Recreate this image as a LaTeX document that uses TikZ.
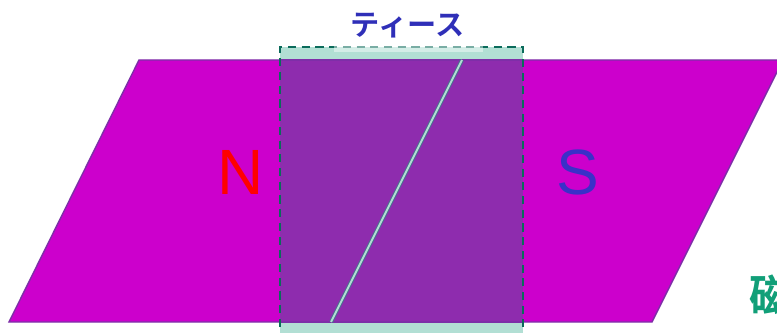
\documentclass[tikz,border=0pt]{standalone}
\usepackage{fontspec}
\setmainfont{Liberation Sans}
\newfontfamily\cjk{Noto Sans CJK JP}[BoldFont={Noto Sans CJK JP Bold}]
\definecolor{magnetcol}{HTML}{CC00CC}
\definecolor{edgecol}{HTML}{7E2FA8}
\definecolor{overlapcol}{HTML}{8E2CAE}
\definecolor{teethcol}{HTML}{B2DFD4}
\definecolor{dashcol}{HTML}{0B6B5B}
\definecolor{slitcol}{HTML}{4A6F8F}
\definecolor{titlecol}{HTML}{2F2FB8}
\definecolor{southcol}{HTML}{3A30C8}
\definecolor{fieldcol}{HTML}{119F78}
\begin{document}
\begin{tikzpicture}[
    x=0.01cm, y=-0.01cm,
    magnet/.style={fill=magnetcol, draw=edgecol, line width=0.4pt},
    teeth/.style={fill=teethcol},
    overlap/.style={fill=overlapcol},
    border/.style={dashcol, line width=0.6pt, dash pattern=on 2.3pt off 1.6pt},
    pole/.style={font=\fontsize{18.2}{20}\selectfont, inner sep=0pt},
]
\useasboundingbox (0,0) rectangle (777,334);

% Teeth behind the magnets
\coordinate (TL) at (280,47);
\coordinate (TR) at (523,47);
\coordinate (BL) at (280,327);
\coordinate (BR) at (523,327);
\fill[teeth] (TL) rectangle (523,333);

% Two magnets with the slit between them
\coordinate (A1) at (9,322);
\coordinate (A2) at (139,60);
\coordinate (G1) at (462,60);
\coordinate (G2) at (331,322);
\coordinate (G3) at (652,322);
\coordinate (G4) at (783,60);
\draw[magnet] (A1) -- (A2) -- (G1) -- (G2) -- cycle;
\draw[magnet] (G2) -- (G1) -- (G4) -- (G3) -- cycle;

% Overlap of teeth and magnets
\fill[overlap] (280,60) rectangle (523,322);
\draw[edgecol, line width=0.4pt] (280,60) -- (523,60) (280,322) -- (523,322);
\draw[slitcol, line width=1.1pt] (G1) -- (G2);
\draw[teethcol, line width=0.55pt] (G1) -- (G2);

% Dashed outline
\draw[border] (BL) -- (TL) -- (TR) -- (BR);
\fill[white, opacity=0.45] (334,46) rectangle (483,52.5);

% Labels
\node[pole, text=red] (north) at (241,172.5) {N};
\node[pole, text=southcol] (south) at (578,172.5) {S};
\node[font=\cjk\bfseries\fontsize{8.3}{9}\selectfont, text=titlecol, inner sep=0pt] (title) at (407.5,26) {ティース};
\begin{scope}
\clip (0,0) rectangle (777,334);
\node[font=\cjk\bfseries\fontsize{12.5}{14}\selectfont, text=fieldcol, inner sep=0pt, anchor=west] (field) at (749,295) {磁};
\end{scope}

\end{tikzpicture}
\end{document}
